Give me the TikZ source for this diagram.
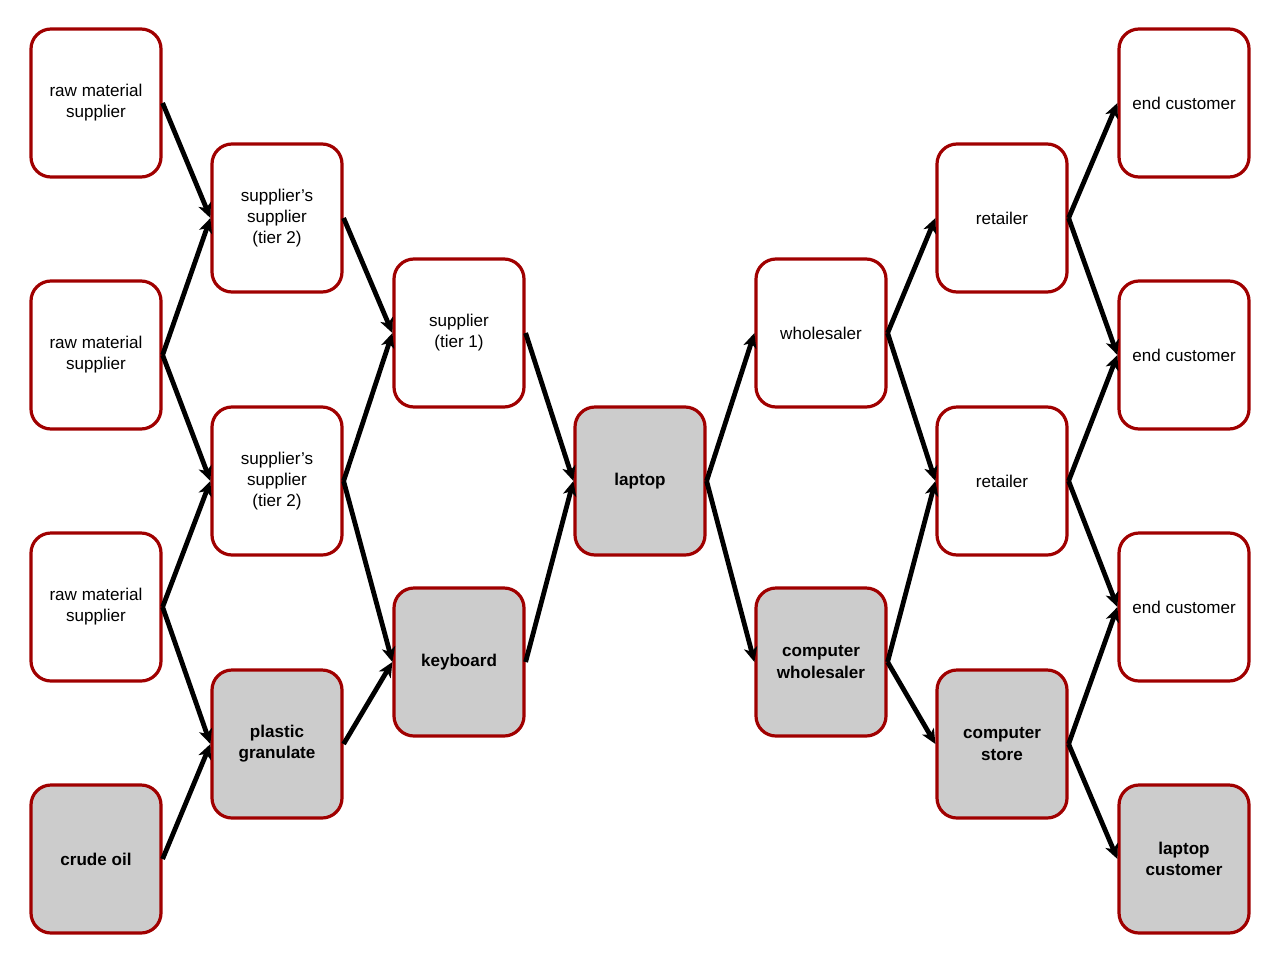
\documentclass[tikz,border=0pt]{standalone}
\usepackage{fontspec}
\setmainfont{Liberation Sans}
\usetikzlibrary{arrows.meta}
\definecolor{bordred}{HTML}{A00000}
\definecolor{boxgray}{HTML}{CCCCCC}
\tikzset{
  box/.style={draw=bordred, line width=2.4pt, rounded corners=15pt, fill=white,
    minimum width=97.5pt, minimum height=111pt, align=center, inner sep=2pt,
    font=\fontsize{12.8}{15.8}\selectfont},
  gbox/.style={box, fill=boxgray, font=\fontsize{12.8}{15.8}\selectfont\bfseries},
  link/.style={line width=3.6pt, -{Stealth[length=11pt,width=10pt,inset=3pt]}}
}
\begin{document}
\begin{tikzpicture}[x=0.75pt,y=-0.75pt]
\useasboundingbox (0,0) rectangle (1280,960);
% column 1
\node[box]  (r1) at (96,103) {raw material\\supplier};
\node[box]  (r2) at (96,355) {raw material\\supplier};
\node[box]  (r3) at (96,607) {raw material\\supplier};
\node[gbox] (co) at (96,859) {crude oil};
% column 2
\node[box]  (s1) at (277,218) {supplier’s\\supplier\\(tier 2)};
\node[box]  (s2) at (277,481) {supplier’s\\supplier\\(tier 2)};
\node[gbox] (pg) at (277,744) {plastic\\granulate};
% column 3
\node[box]  (t1) at (459,333) {supplier\\(tier 1)};
\node[gbox] (kb) at (459,662) {keyboard};
% column 4
\node[gbox] (lp) at (640,481) {laptop};
% column 5
\node[box]  (wh) at (821,333) {wholesaler};
\node[gbox] (cw) at (821,662) {computer\\wholesaler};
% column 6
\node[box]  (re1) at (1002,218) {retailer};
\node[box]  (re2) at (1002,481) {retailer};
\node[gbox] (cs) at (1002,744) {computer\\store};
% column 7
\node[box]  (e1) at (1184,103) {end customer};
\node[box]  (e2) at (1184,355) {end customer};
\node[box]  (e3) at (1184,607) {end customer};
\node[gbox] (lc) at (1184,859) {laptop\\customer};
% connectors
\draw[link] (r1.east) -- (s1.west);
\draw[link] (r2.east) -- (s1.west);
\draw[link] (r2.east) -- (s2.west);
\draw[link] (r3.east) -- (s2.west);
\draw[link] (r3.east) -- (pg.west);
\draw[link] (co.east) -- (pg.west);
\draw[link] (s1.east) -- (t1.west);
\draw[link] (s2.east) -- (t1.west);
\draw[link] (s2.east) -- (kb.west);
\draw[link] (pg.east) -- (kb.west);
\draw[link] (t1.east) -- (lp.west);
\draw[link] (kb.east) -- (lp.west);
\draw[link] (lp.east) -- (wh.west);
\draw[link] (lp.east) -- (cw.west);
\draw[link] (wh.east) -- (re1.west);
\draw[link] (wh.east) -- (re2.west);
\draw[link] (cw.east) -- (re2.west);
\draw[link] (cw.east) -- (cs.west);
\draw[link] (re1.east) -- (e1.west);
\draw[link] (re1.east) -- (e2.west);
\draw[link] (re2.east) -- (e2.west);
\draw[link] (re2.east) -- (e3.west);
\draw[link] (cs.east) -- (e3.west);
\draw[link] (cs.east) -- (lc.west);
\end{tikzpicture}
\end{document}
